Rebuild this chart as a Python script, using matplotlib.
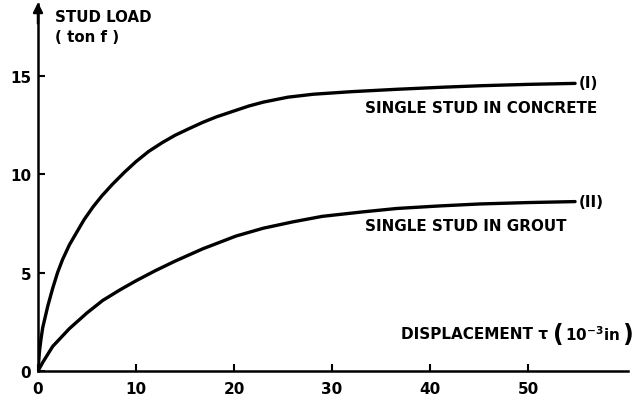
import matplotlib
matplotlib.use("Agg")
import matplotlib.pyplot as plt

plt.rcParams['font.family'] = ['DejaVu Sans']
plt.rcParams['font.weight'] = 'bold'
plt.rcParams['mathtext.fontset'] = 'dejavusans'
plt.rcParams['mathtext.default'] = 'bf'

# Curve (I): single stud in concrete
x_concrete = [0, 0.15, 0.3, 0.48, 1.0, 1.5, 2.0, 2.5, 3.2, 3.9, 4.7, 5.6, 6.5, 7.6, 8.8,
              10.0, 11.3, 12.7, 14.0, 15.4, 16.8, 18.2, 20.0, 21.5, 23.0, 25.5, 28.1,
              32.0, 36.6, 41.0, 45.1, 50.0, 54.8]
y_concrete = [0, 1.0, 1.6, 2.2, 3.3, 4.2, 5.0, 5.65, 6.4, 7.0, 7.68, 8.32, 8.88, 9.48, 10.08,
              10.63, 11.15, 11.6, 11.97, 12.3, 12.62, 12.9, 13.2, 13.45, 13.65, 13.9, 14.05,
              14.18, 14.3, 14.4, 14.48, 14.55, 14.6]

# Curve (II): single stud in grout
x_grout = [0, 0.5, 1.5, 3.2, 5.0, 6.6, 8.3, 10.0, 12.0, 14.0, 16.8, 20.2, 23.0, 26.0,
           29.0, 33.0, 36.6, 41.0, 45.1, 50.0, 54.8]
y_grout = [0, 0.45, 1.25, 2.15, 2.95, 3.58, 4.1, 4.58, 5.1, 5.58, 6.2, 6.85, 7.25, 7.57,
           7.85, 8.07, 8.25, 8.38, 8.48, 8.55, 8.6]

x_ticks = [0, 10, 20, 30, 40, 50]
y_ticks = [0, 5, 10, 15]

fig = plt.figure(figsize=(6.4, 4.06), dpi=100)
ax = fig.add_axes([38/640, 34/406, 590/640, 367/406])
ax.set_xlim(0, 60.2)
ax.set_ylim(0, 18.63)

ax.plot(x_concrete, y_concrete, color='black', lw=2.4, solid_capstyle='round',
        solid_joinstyle='round')
ax.plot(x_grout, y_grout, color='black', lw=2.4, solid_capstyle='round',
        solid_joinstyle='round')

for s in ['top', 'right']:
    ax.spines[s].set_visible(False)
for s in ['left', 'bottom']:
    ax.spines[s].set_linewidth(1.8)

ax.set_xticks(x_ticks)
ax.set_yticks(y_ticks)
ax.tick_params(direction='in', length=5, width=1.5, labelsize=11)
ax.tick_params(axis='x', pad=7)
ax.tick_params(axis='y', pad=5)
for lab in ax.get_xticklabels() + ax.get_yticklabels():
    lab.set_fontweight('bold')

# arrow on y axis
ax.annotate('', xy=(0, 18.85), xytext=(0, 17.5),
            arrowprops=dict(arrowstyle='-|>', color='black', lw=1.8, mutation_scale=14),
            annotation_clip=False)

ax.text(1.7, 18.0, 'STUD LOAD', fontsize=10.8, fontweight='bold', va='center')
ax.text(1.7, 17.0, '( ton f )', fontsize=10.8, fontweight='bold', va='center')
ax.text(55.2, 14.65, '(I)', fontsize=11, fontweight='bold', va='center')
ax.text(55.2, 8.6, '(II)', fontsize=11, fontweight='bold', va='center')
ax.text(33.4, 13.4, 'SINGLE STUD IN CONCRETE', fontsize=10.9, fontweight='bold', va='center')
ax.text(33.4, 7.4, 'SINGLE STUD IN GROUT', fontsize=10.9, fontweight='bold', va='center')

# x-axis label built from pieces with large parentheses
t1 = ax.text(37.0, 1.9, 'DISPLACEMENT τ', fontsize=11, fontweight='bold', va='center')
t2 = ax.annotate('(', xy=(1, 0.5), xycoords=t1, xytext=(4, 0), textcoords='offset points',
                 fontsize=17, fontweight='bold', va='center', ha='left')
t3 = ax.annotate(r'10$^{-3}$in', xy=(1, 0.5), xycoords=t2, xytext=(1, 0),
                 textcoords='offset points', fontsize=11, fontweight='bold',
                 va='center', ha='left')
ax.annotate(')', xy=(1, 0.5), xycoords=t3, xytext=(1, 0), textcoords='offset points',
            fontsize=17, fontweight='bold', va='center', ha='left')

fig.savefig('out.png', dpi=100)
